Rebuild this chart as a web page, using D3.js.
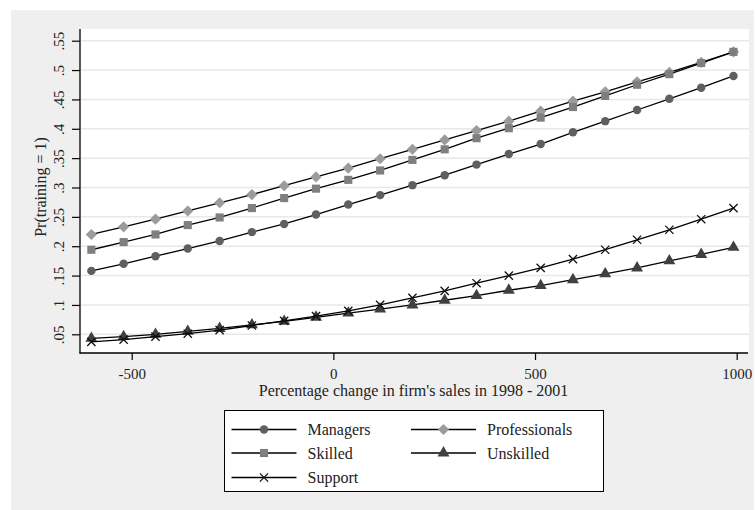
<!DOCTYPE html>
<html>
<head>
<meta charset="utf-8">
<script src="https://cdn.jsdelivr.net/npm/d3@7"></script>
<style>
  html, body { margin: 0; padding: 0; background: #ffffff; }
  svg { display: block; }
  text { font-family: "Liberation Serif", "DejaVu Serif", serif; fill: #222; }
</style>
</head>
<body>
<svg id="chart" width="755" height="510"></svg>
<script>
// Percentage change in sales at which predicted probabilities are evaluated
const salesChange = [-600, -520, -441, -361, -282, -202, -122, -43, 37, 116, 196,
                     276, 355, 435, 514, 594, 674, 753, 833, 912, 992];

// Predicted Pr(training = 1) by occupational group
const managers      = [0.158, 0.170, 0.183, 0.196, 0.209, 0.224, 0.238, 0.254, 0.271, 0.287, 0.304,
                       0.321, 0.339, 0.357, 0.374, 0.394, 0.413, 0.432, 0.451, 0.470, 0.490];
const professionals = [0.220, 0.233, 0.246, 0.260, 0.274, 0.288, 0.303, 0.318, 0.333, 0.349, 0.365,
                       0.381, 0.397, 0.413, 0.430, 0.447, 0.463, 0.480, 0.496, 0.513, 0.531];
const skilled       = [0.194, 0.207, 0.220, 0.236, 0.249, 0.265, 0.282, 0.298, 0.313, 0.329, 0.347,
                       0.365, 0.384, 0.401, 0.419, 0.437, 0.456, 0.475, 0.493, 0.512, 0.531];
const unskilled     = [0.043, 0.046, 0.050, 0.055, 0.060, 0.066, 0.072, 0.079, 0.086, 0.093, 0.100,
                       0.108, 0.116, 0.125, 0.133, 0.143, 0.153, 0.163, 0.175, 0.186, 0.198];
const support       = [0.037, 0.041, 0.046, 0.051, 0.057, 0.065, 0.073, 0.081, 0.090, 0.100, 0.112,
                       0.124, 0.137, 0.150, 0.163, 0.178, 0.194, 0.211, 0.228, 0.246, 0.265];

// Axis ticks
const yTicks = [0.05, 0.10, 0.15, 0.20, 0.25, 0.30, 0.35, 0.40, 0.45, 0.50, 0.55];
const yTickLabels = [".05", ".1", ".15", ".2", ".25", ".3", ".35", ".4", ".45", ".5", ".55"];
const xTicks = [-500, 0, 500, 1000];
const xTickLabels = ["-500", "0", "500", "1000"];

const seriesNames = ["Managers", "Professionals", "Skilled", "Unskilled", "Support"];
const seriesValues = [managers, professionals, skilled, unskilled, support];

// Marker style per group
const markerStyle = {
  Managers:      { type: d3.symbolCircle,   size: 56, fill: "#5f5f5f" },
  Professionals: { type: d3.symbolDiamond2, size: 80, fill: "#9b9b9b" },
  Skilled:       { type: d3.symbolSquare,   size: 66, fill: "#7f7f7f" },
  Unskilled:     { type: d3.symbolTriangle, size: 62, fill: "#404040" },
  Support:       { type: d3.symbolX,        size: 46, fill: "none", stroke: "#111" }
};

const svg = d3.select("#chart");

// Outer graph region
svg.append("rect").attr("x", 11).attr("y", 10).attr("width", 743).attr("height", 500)
  .attr("fill", "#efefef");

const plot = { left: 80, right: 749, top: 29, bottom: 353 };
svg.append("rect").attr("x", plot.left).attr("y", plot.top)
  .attr("width", plot.right - plot.left).attr("height", plot.bottom - plot.top)
  .attr("fill", "#ffffff");

const x = d3.scaleLinear().domain([-500, 1000]).range([131.7, 736.7]);
const y = d3.scaleLinear().domain([0.05, 0.55]).range([334.3, 40.7]);

// Horizontal grid lines
svg.append("g").selectAll("line").data(yTicks).join("line")
  .attr("x1", plot.left + 1).attr("x2", plot.right)
  .attr("y1", d => y(d)).attr("y2", d => y(d))
  .attr("stroke", "#e8e8e8").attr("stroke-width", 1.5);

// Y axis
const yAxis = d3.axisLeft(y).tickValues(yTicks)
  .tickFormat((d, i) => yTickLabels[i]).tickSize(8).tickPadding(0);
const gy = svg.append("g").attr("transform", `translate(${plot.left},0)`).call(yAxis);
gy.select(".domain").remove();
gy.selectAll(".tick line").attr("stroke", "#000").attr("stroke-width", 1.2);
gy.selectAll(".tick text")
  .attr("transform", "rotate(-90)")
  .attr("x", 0).attr("y", -16.5)
  .attr("text-anchor", "middle")
  .attr("dy", "0")
  .style("font-size", "15px")
  .style("font-family", "'Liberation Serif', serif")
  .attr("fill", "#222");
svg.append("line").attr("x1", plot.left).attr("x2", plot.left)
  .attr("y1", plot.top).attr("y2", plot.bottom + 0.5)
  .attr("stroke", "#000").attr("stroke-width", 1.3);

// X axis
const xAxis = d3.axisBottom(x).tickValues(xTicks)
  .tickFormat((d, i) => xTickLabels[i]).tickSize(7).tickPadding(3);
const gx = svg.append("g").attr("transform", `translate(0,${plot.bottom})`).call(xAxis);
gx.select(".domain").remove();
gx.selectAll(".tick line").attr("stroke", "#000").attr("stroke-width", 1.2);
gx.selectAll(".tick text")
  .attr("y", 26).attr("dy", "0")
  .style("font-size", "15px")
  .style("font-family", "'Liberation Serif', serif")
  .attr("fill", "#222");
svg.append("line").attr("x1", plot.left - 0.5).attr("x2", plot.right - 1)
  .attr("y1", plot.bottom).attr("y2", plot.bottom)
  .attr("stroke", "#000").attr("stroke-width", 1.3);

// Axis titles
svg.append("text")
  .attr("x", (plot.left + plot.right) / 2 - 1).attr("y", 396)
  .attr("text-anchor", "middle").style("font-size", "16px")
  .text("Percentage change in firm's sales in 1998 - 2001");
svg.append("text")
  .attr("transform", "translate(46,187) rotate(-90)")
  .attr("text-anchor", "middle").style("font-size", "16px")
  .text("Pr(training = 1)");

// Connected lines with markers
const line = d3.line().x((d, i) => x(salesChange[i])).y(d => y(d));

function drawMarker(sel, name) {
  const m = markerStyle[name];
  sel.attr("d", d3.symbol().type(m.type).size(m.size)())
    .attr("fill", m.fill)
    .attr("stroke", m.stroke || "none")
    .attr("stroke-width", m.stroke ? 1.3 : 0);
}

seriesNames.forEach((name, s) => {
  const vals = seriesValues[s];
  const g = svg.append("g");
  g.append("path").datum(vals).attr("d", line)
    .attr("fill", "none").attr("stroke", "#000").attr("stroke-width", 1.3);
  g.selectAll("path.marker").data(vals).join("path")
    .attr("class", "marker")
    .attr("transform", (d, i) => `translate(${x(salesChange[i])},${y(d)})`)
    .call(drawMarker, name);
});

// Legend
const legend = svg.append("g");
legend.append("rect").attr("x", 224.5).attr("y", 410.5).attr("width", 379).attr("height", 81)
  .attr("fill", "#ffffff").attr("stroke", "#000").attr("stroke-width", 1);

const colX = [231.5, 411];
const rowY = [429.5, 453, 477.5];
seriesNames.forEach((name, i) => {
  const cx = colX[i % 2], cy = rowY[Math.floor(i / 2)];
  legend.append("line").attr("x1", cx).attr("x2", cx + 65)
    .attr("y1", cy).attr("y2", cy).attr("stroke", "#000").attr("stroke-width", 1.3);
  legend.append("path").attr("transform", `translate(${cx + 32.5},${cy})`).call(drawMarker, name);
  legend.append("text").attr("x", cx + 76).attr("y", cy + 5.5)
    .style("font-size", "16px").text(name);
});
</script>
</body>
</html>
